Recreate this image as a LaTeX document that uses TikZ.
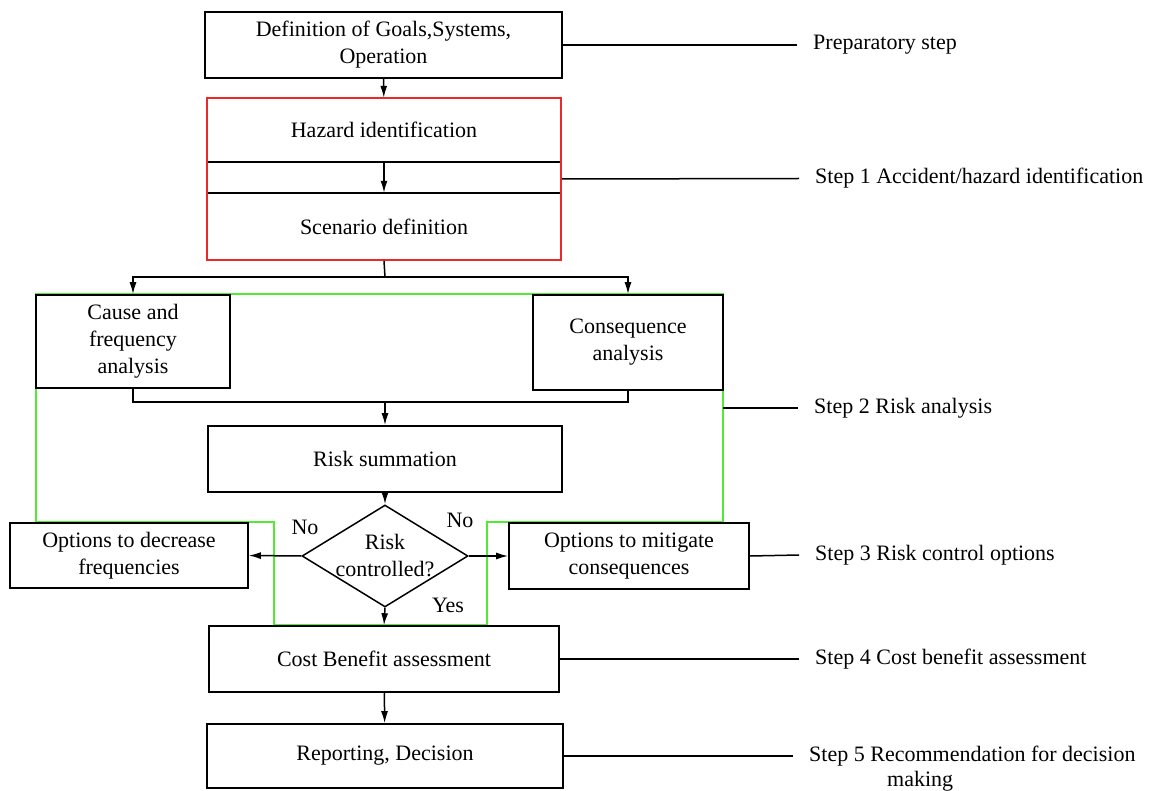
\documentclass[tikz,border=0pt]{standalone}
\usepackage{fontspec}
\setmainfont{LiberationSerif}[Extension=.ttf,UprightFont=*-Regular,BoldFont=*-Bold,ItalicFont=*-Italic]
\usepackage{tikz}
\usetikzlibrary{arrows.meta}
\usetikzlibrary{positioning}
\usetikzlibrary{shapes.geometric}
\usetikzlibrary{fit}
\definecolor{hazred}{RGB}{238,40,40}
\definecolor{riskgreen}{RGB}{80,235,50}
\tikzstyle{flow}=[->,>={Latex[length=12pt,width=7pt]},line width=1.5pt,color=black]
\tikzstyle{link}=[line width=1.5pt,color=black]

\begin{document}
\begin{tikzpicture}[x=1pt,y=-1pt,font=\fontsize{22}{27}\selectfont]
    % caixas com borda preta, tamanho dado em cada no
    \tikzstyle{box}=[draw,line width=1.6pt,align=center,inner sep=0pt]
    \tikzstyle{steptext}=[anchor=west,inner xsep=16pt,inner ysep=0pt,text height=15pt,text depth=5pt]
    \useasboundingbox (0,0) rectangle (1153,791);

    % moldura verde da analise de risco
    \draw[riskgreen,line width=1.4pt] (36,294) -- (723,294) -- (723,522) -- (487,522) -- (487,625)
        -- (274,625) -- (274,522) -- (36,522) -- cycle;

    \node[box,minimum width=357pt,minimum height=66pt] (goals) at (383.5,45) {Definition of Goals,Systems,\\Operation};
    \node[inner sep=0pt,minimum width=354pt,minimum height=64pt] (hazard) at (384,130) {Hazard identification};
    \node[inner sep=0pt,minimum width=354pt,minimum height=67pt] (scenario) at (384,226.5) {Scenario definition};
    \draw[link] (hazard.south west) -- (hazard.south east);
    \draw[link] (scenario.north west) -- (scenario.north east);
    \node[draw=hazred,line width=1.6pt,inner sep=0pt,fit=(hazard)(scenario)] (idframe) {};

    \node[box,minimum width=194pt,minimum height=93pt] (cause) at (133,341.5) {Cause and\\frequency\\analysis};
    \node[box,minimum width=190pt,minimum height=95pt] (conseq) at (628,342.5) {Consequence\\analysis};
    \node[box,minimum width=354pt,minimum height=66pt] (summ) at (385,459) {Risk summation};
    \node[draw,shape=diamond,line width=1.5pt,inner sep=0pt,minimum width=166pt,minimum height=102pt,align=center] (risk) at (385,556)
        {\makebox[0pt]{Risk}\\\makebox[0pt]{controlled?}};
    \node[box,minimum width=238pt,minimum height=65pt] (decr) at (129,555.5) {Options to decrease\\frequencies};
    \node[box,minimum width=240pt,minimum height=66pt] (mitig) at (629,556) {Options to mitigate\\consequences};
    \node[box,minimum width=350pt,minimum height=66pt] (cost) at (384,659) {Cost Benefit assessment};
    \node[box,minimum width=356pt,minimum height=64pt] (report) at (385,756) {Reporting, Decision};

    \node (nol) at (305,527) {No};
    \node (nor) at (460,520) {No};
    \node (yes) at (448,605) {Yes};

    \coordinate (split) at (385,277);
    \coordinate (merge) at (385,402);
    \draw[flow] (goals) -- (hazard);
    \draw[flow] (hazard) -- (scenario);
    \draw[link] (idframe.south) -- (split);
    \draw[flow] (split) -| (cause.north);
    \draw[flow] (split) -| (conseq.north);
    \draw[link] (cause.south) |- (merge);
    \draw[link] (conseq.south) |- (merge);
    \draw[flow] (merge) -- (summ.north);
    \draw[flow] (summ) -- (risk);
    \draw[flow] (risk.west) -- (decr.east);
    \draw[flow] (risk.east) -- (mitig.west);
    \draw[flow] (risk.south) -- (cost.north);
    \draw[flow] (cost) -- (report);

    % etapas do lado direito
    \node[steptext] (prep) at (797,45) {Preparatory step};
    \node[steptext] (step1) at (799,178.5) {Step 1 Accident/hazard identification};
    \node[steptext] (step2) at (798,408) {Step 2 Risk analysis};
    \node[steptext] (step3) at (799,555) {Step 3 Risk control options};
    \node[steptext] (step4) at (799,659) {Step 4 Cost benefit assessment};
    \node[steptext] (step5) at (793,756) {Step 5 Recommendation for decision};
    \node[anchor=west,inner sep=0pt] (making) at (887,781) {making};

    \coordinate (gedge) at (723,408);
    \draw[link] (goals.east) -- (prep.west);
    \draw[link] (idframe.east) -- (step1.west);
    \draw[link] (gedge) -- (step2.west);
    \draw[link] (mitig.east) -- (step3.west);
    \draw[link] (cost.east) -- (step4.west);
    \draw[link] (report.east) -- (step5.west);
\end{tikzpicture}
\end{document}
